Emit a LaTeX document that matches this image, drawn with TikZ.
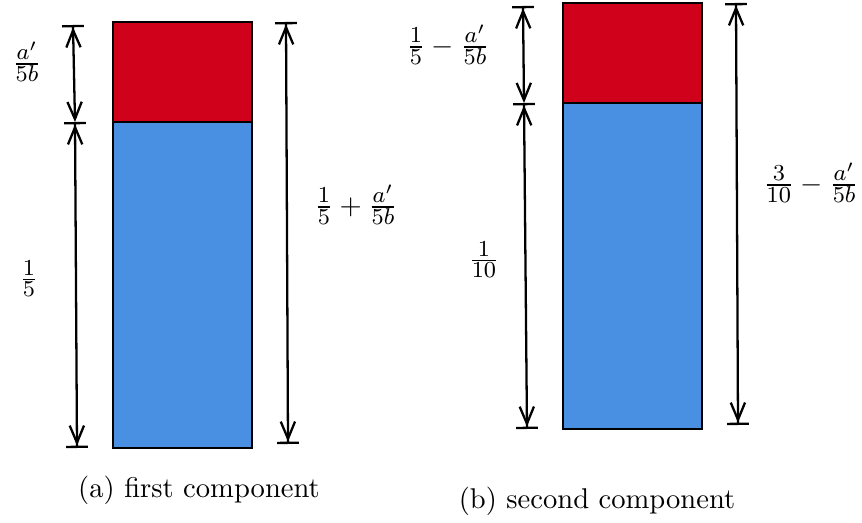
\documentclass[tikz,border=0pt]{standalone}
\usetikzlibrary{arrows.meta,positioning}
\DeclareMathSizes{10}{10}{8}{6}
\definecolor{topred}{HTML}{D0021B}
\definecolor{lowblue}{HTML}{4A90E2}
\tikzset{
  barb/.tip={Straight Barb[length=6pt,width=5pt]},
  part/.style={
    draw,
    line width = 0.8pt
  },
  dimline/.style={
    line width = 0.8pt,
    {Bar[width=7.6pt]barb[]}-{barb[]Bar[width=7.6pt]}
  },
  dimupper/.style={
    line width = 0.8pt,
    {Bar[width=7.6pt]barb[]}-{barb[]}
  },
  frac/.style={
    inner sep=1pt
  },
  caption/.style={
    inner sep=1pt
  }
}
\begin{document}
\begin{tikzpicture}[x=0.0123cm,y=-0.0123cm]
    \useasboundingbox (0,0) rectangle (862,523);
    % (a) first component
    \draw[part,fill=topred] (113,22) rectangle (252,122);
    \draw[part,fill=lowblue] (113,122) rectangle (252,448);
    \coordinate (aLtop) at (73,25);
    \coordinate (aLmid) at (75,122);
    \coordinate (aLbot) at (77,448);
    \coordinate (aRtop) at (286,22);
    \coordinate (aRbot) at (288,444);
    \draw[dimupper] (aLtop) -- (aLmid);
    \draw[dimline] (aLmid) -- (aLbot);
    \draw[dimline] (aRtop) -- (aRbot);
    \node[frac] (aTopLbl) at (27,62) {$\frac{a'}{5b}$};
    \node[frac] (aLowLbl) at (29,279) {$\frac{1}{5}$};
    \node[frac] (aAllLbl) at (356,205) {$\frac{1}{5} + \frac{a'}{5b}$};
    \node[caption] (aCap) at (199,490) {(a) first component};
    % (b) second component
    \draw[part,fill=topred] (563,3) rectangle (702,103);
    \draw[part,fill=lowblue] (563,103) rectangle (702,429);
    \coordinate (bLtop) at (523,6);
    \coordinate (bLmid) at (524,103);
    \coordinate (bLbot) at (527,429);
    \coordinate (bRtop) at (736,3);
    \coordinate (bRbot) at (738,425);
    \draw[dimupper] (bLtop) -- (bLmid);
    \draw[dimline] (bLmid) -- (bLbot);
    \draw[dimline] (bRtop) -- (bRbot);
    \node[frac] (bTopLbl) at (448,45) {$\frac{1}{5} - \frac{a'}{5b}$};
    \node[frac] (bLowLbl) at (484,260) {$\frac{1}{10}$};
    \node[frac] (bAllLbl) at (811,183) {$\frac{3}{10} - \frac{a'}{5b}$};
    \node[caption] (bCap) at (597,501) {(b) second component};
\end{tikzpicture}
\end{document}
